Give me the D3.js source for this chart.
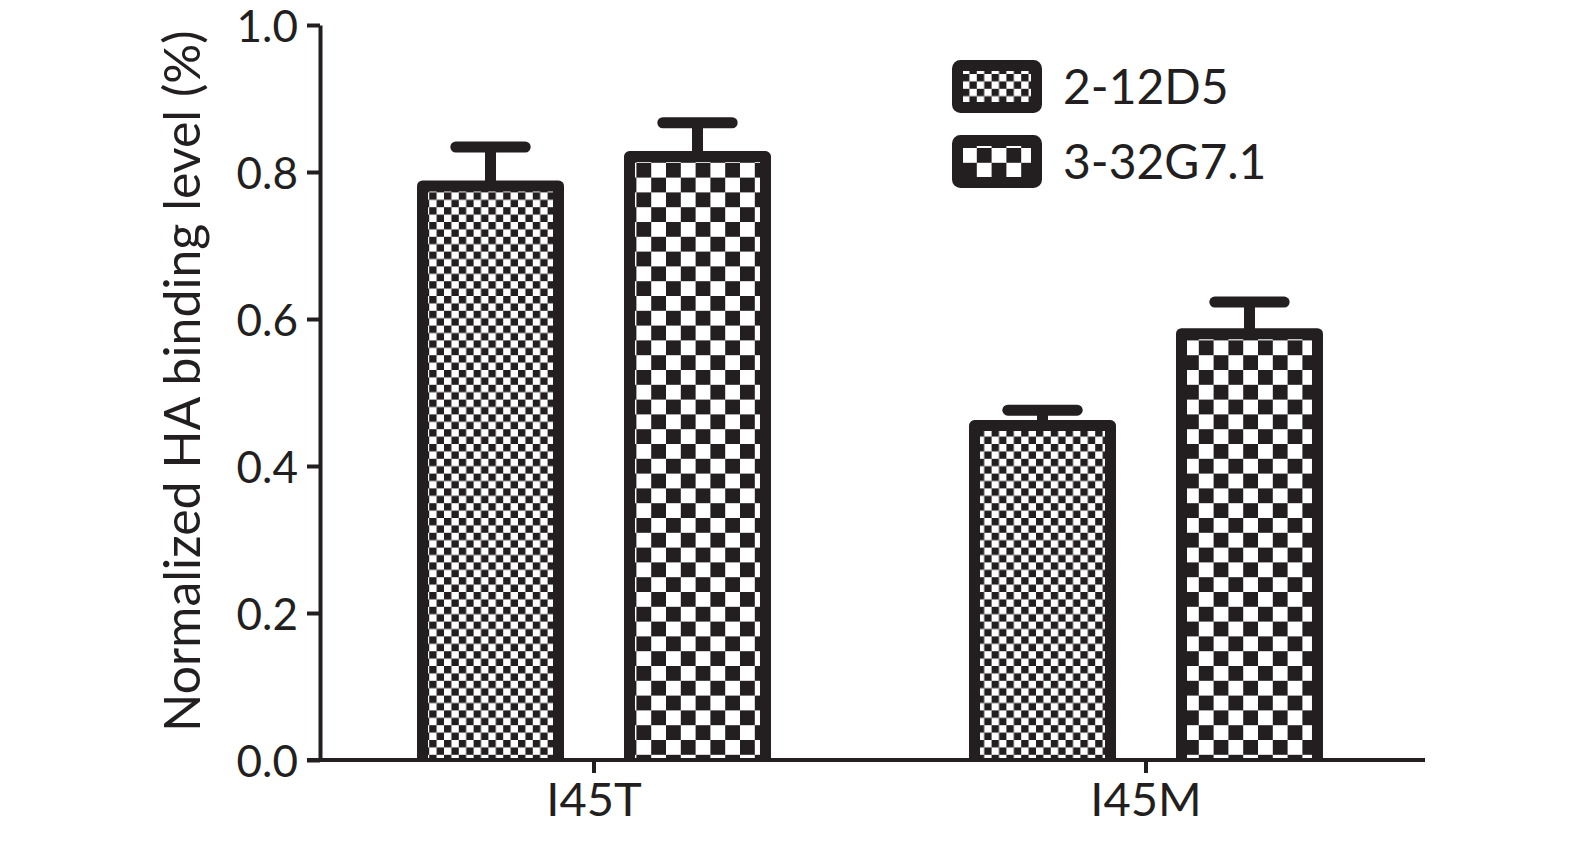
<!DOCTYPE html>
<html>
<head>
<meta charset="utf-8">
<script src="https://cdn.jsdelivr.net/npm/d3@7/dist/d3.min.js"></script>
<style>
  html, body { margin: 0; padding: 0; background: #fff; }
  svg { display: block; }
  text { font-family: Lato, "Open Sans", sans-serif; fill: #231f20; }
</style>
</head>
<body>
<svg id="chart" width="1575" height="841"></svg>
<script>
// ---- data ----
const categories = ["I45T", "I45M"];
const seriesNames = ["2-12D5", "3-32G7.1"];
const values_2_12D5 = [0.781, 0.455];
const errors_2_12D5 = [0.053, 0.021];
const values_3_32G71 = [0.821, 0.580];
const errors_3_32G71 = [0.046, 0.043];
const yTicks = [0, 0.2, 0.4, 0.6, 0.8, 1.0];
const yLabel = "Normalized HA binding level (%)";

const seriesValues = [values_2_12D5, values_3_32G71];
const seriesErrors = [errors_2_12D5, errors_3_32G71];
const ink = "#231f20";

const svg = d3.select("#chart");
const defs = svg.append("defs");

// checkerboard patterns
function checker(id, s) {
  const p = defs.append("pattern").attr("id", id)
    .attr("patternUnits", "userSpaceOnUse")
    .attr("width", 2 * s).attr("height", 2 * s);
  p.append("rect").attr("width", 2 * s).attr("height", 2 * s).attr("fill", "#fff");
  p.append("rect").attr("x", 0).attr("y", 0).attr("width", s).attr("height", s).attr("fill", ink);
  p.append("rect").attr("x", s).attr("y", s).attr("width", s).attr("height", s).attr("fill", ink);
}
checker("pat0", 7.4);
checker("pat1", 14.8);
const patterns = ["url(#pat0)", "url(#pat1)"];

// scales
const y = d3.scaleLinear().domain([0, 1]).range([760, 25]);
const x = d3.scaleBand().domain(categories).range([318, 1422]).padding(0);
const xSub = d3.scaleBand().domain(seriesNames).range([0, x.bandwidth()])
  .paddingInner(0.343).paddingOuter(0.505);

// bars
const barData = [];
categories.forEach((c, i) => {
  seriesNames.forEach((s, j) => {
    barData.push({ cat: c, ser: s, j: j, v: seriesValues[j][i], e: seriesErrors[j][i] });
  });
});

const gBars = svg.append("g");
barData.forEach(d => {
  const x0 = x(d.cat) + xSub(d.ser);
  const w = xSub.bandwidth();
  const cx = x0 + w / 2;
  gBars.append("line")
    .attr("x1", cx).attr("x2", cx)
    .attr("y1", y(d.v)).attr("y2", y(d.v + d.e))
    .attr("stroke", ink).attr("stroke-width", 11);
  gBars.append("line")
    .attr("x1", cx - w * 0.255).attr("x2", cx + w * 0.255)
    .attr("y1", y(d.v + d.e)).attr("y2", y(d.v + d.e))
    .attr("stroke", ink).attr("stroke-width", 11).attr("stroke-linecap", "round");
  const p = d3.path();
  p.moveTo(x0, y(0));
  p.lineTo(x0, y(d.v));
  p.lineTo(x0 + w, y(d.v));
  p.lineTo(x0 + w, y(0));
  gBars.append("path")
    .attr("d", p.toString())
    .attr("fill", patterns[d.j])
    .attr("stroke", ink).attr("stroke-width", 11)
    .attr("stroke-linejoin", "round");
});

// y axis
const yAxis = svg.append("g").attr("transform", "translate(320,0)")
  .call(d3.axisLeft(y).tickValues(yTicks).tickFormat(d3.format(".1f")).tickSize(13).tickSizeOuter(0).tickPadding(9));
yAxis.select(".domain").attr("stroke", ink).attr("stroke-width", 4);
yAxis.selectAll(".tick line").attr("stroke", ink).attr("stroke-width", 4);
yAxis.selectAll(".tick text").attr("font-size", 44).attr("fill", ink)
  .attr("font-family", "Lato, 'Open Sans', sans-serif").attr("dy", "0.38em");

// x axis
const xAxis = svg.append("g").attr("transform", "translate(0,760)")
  .call(d3.axisBottom(x).tickSize(13).tickSizeOuter(0).tickPadding(10));
xAxis.select(".domain").remove();
xAxis.append("line").attr("x1", 307).attr("x2", 1425).attr("y1", 0).attr("y2", 0)
  .attr("stroke", ink).attr("stroke-width", 4);
xAxis.selectAll(".tick line").attr("stroke", ink).attr("stroke-width", 4);
xAxis.selectAll(".tick text").attr("font-size", 47).attr("fill", ink)
  .attr("font-family", "Lato, 'Open Sans', sans-serif");

// y label
svg.append("text")
  .attr("transform", "translate(200,381) rotate(-90)")
  .attr("text-anchor", "middle")
  .attr("font-size", 50)
  .text(yLabel);

// legend
const legend = svg.append("g");
seriesNames.forEach((s, j) => {
  const cy = 86.5 + j * 75;
  legend.append("rect")
    .attr("x", 957.5).attr("y", cy - 21)
    .attr("width", 79).attr("height", 42)
    .attr("rx", 3)
    .attr("fill", patterns[j])
    .attr("stroke", ink).attr("stroke-width", 11)
    .attr("stroke-linejoin", "round");
  legend.append("text")
    .attr("x", 1063).attr("y", cy)
    .attr("dy", "0.36em")
    .attr("font-size", 48)
    .text(s);
});
</script>
</body>
</html>
